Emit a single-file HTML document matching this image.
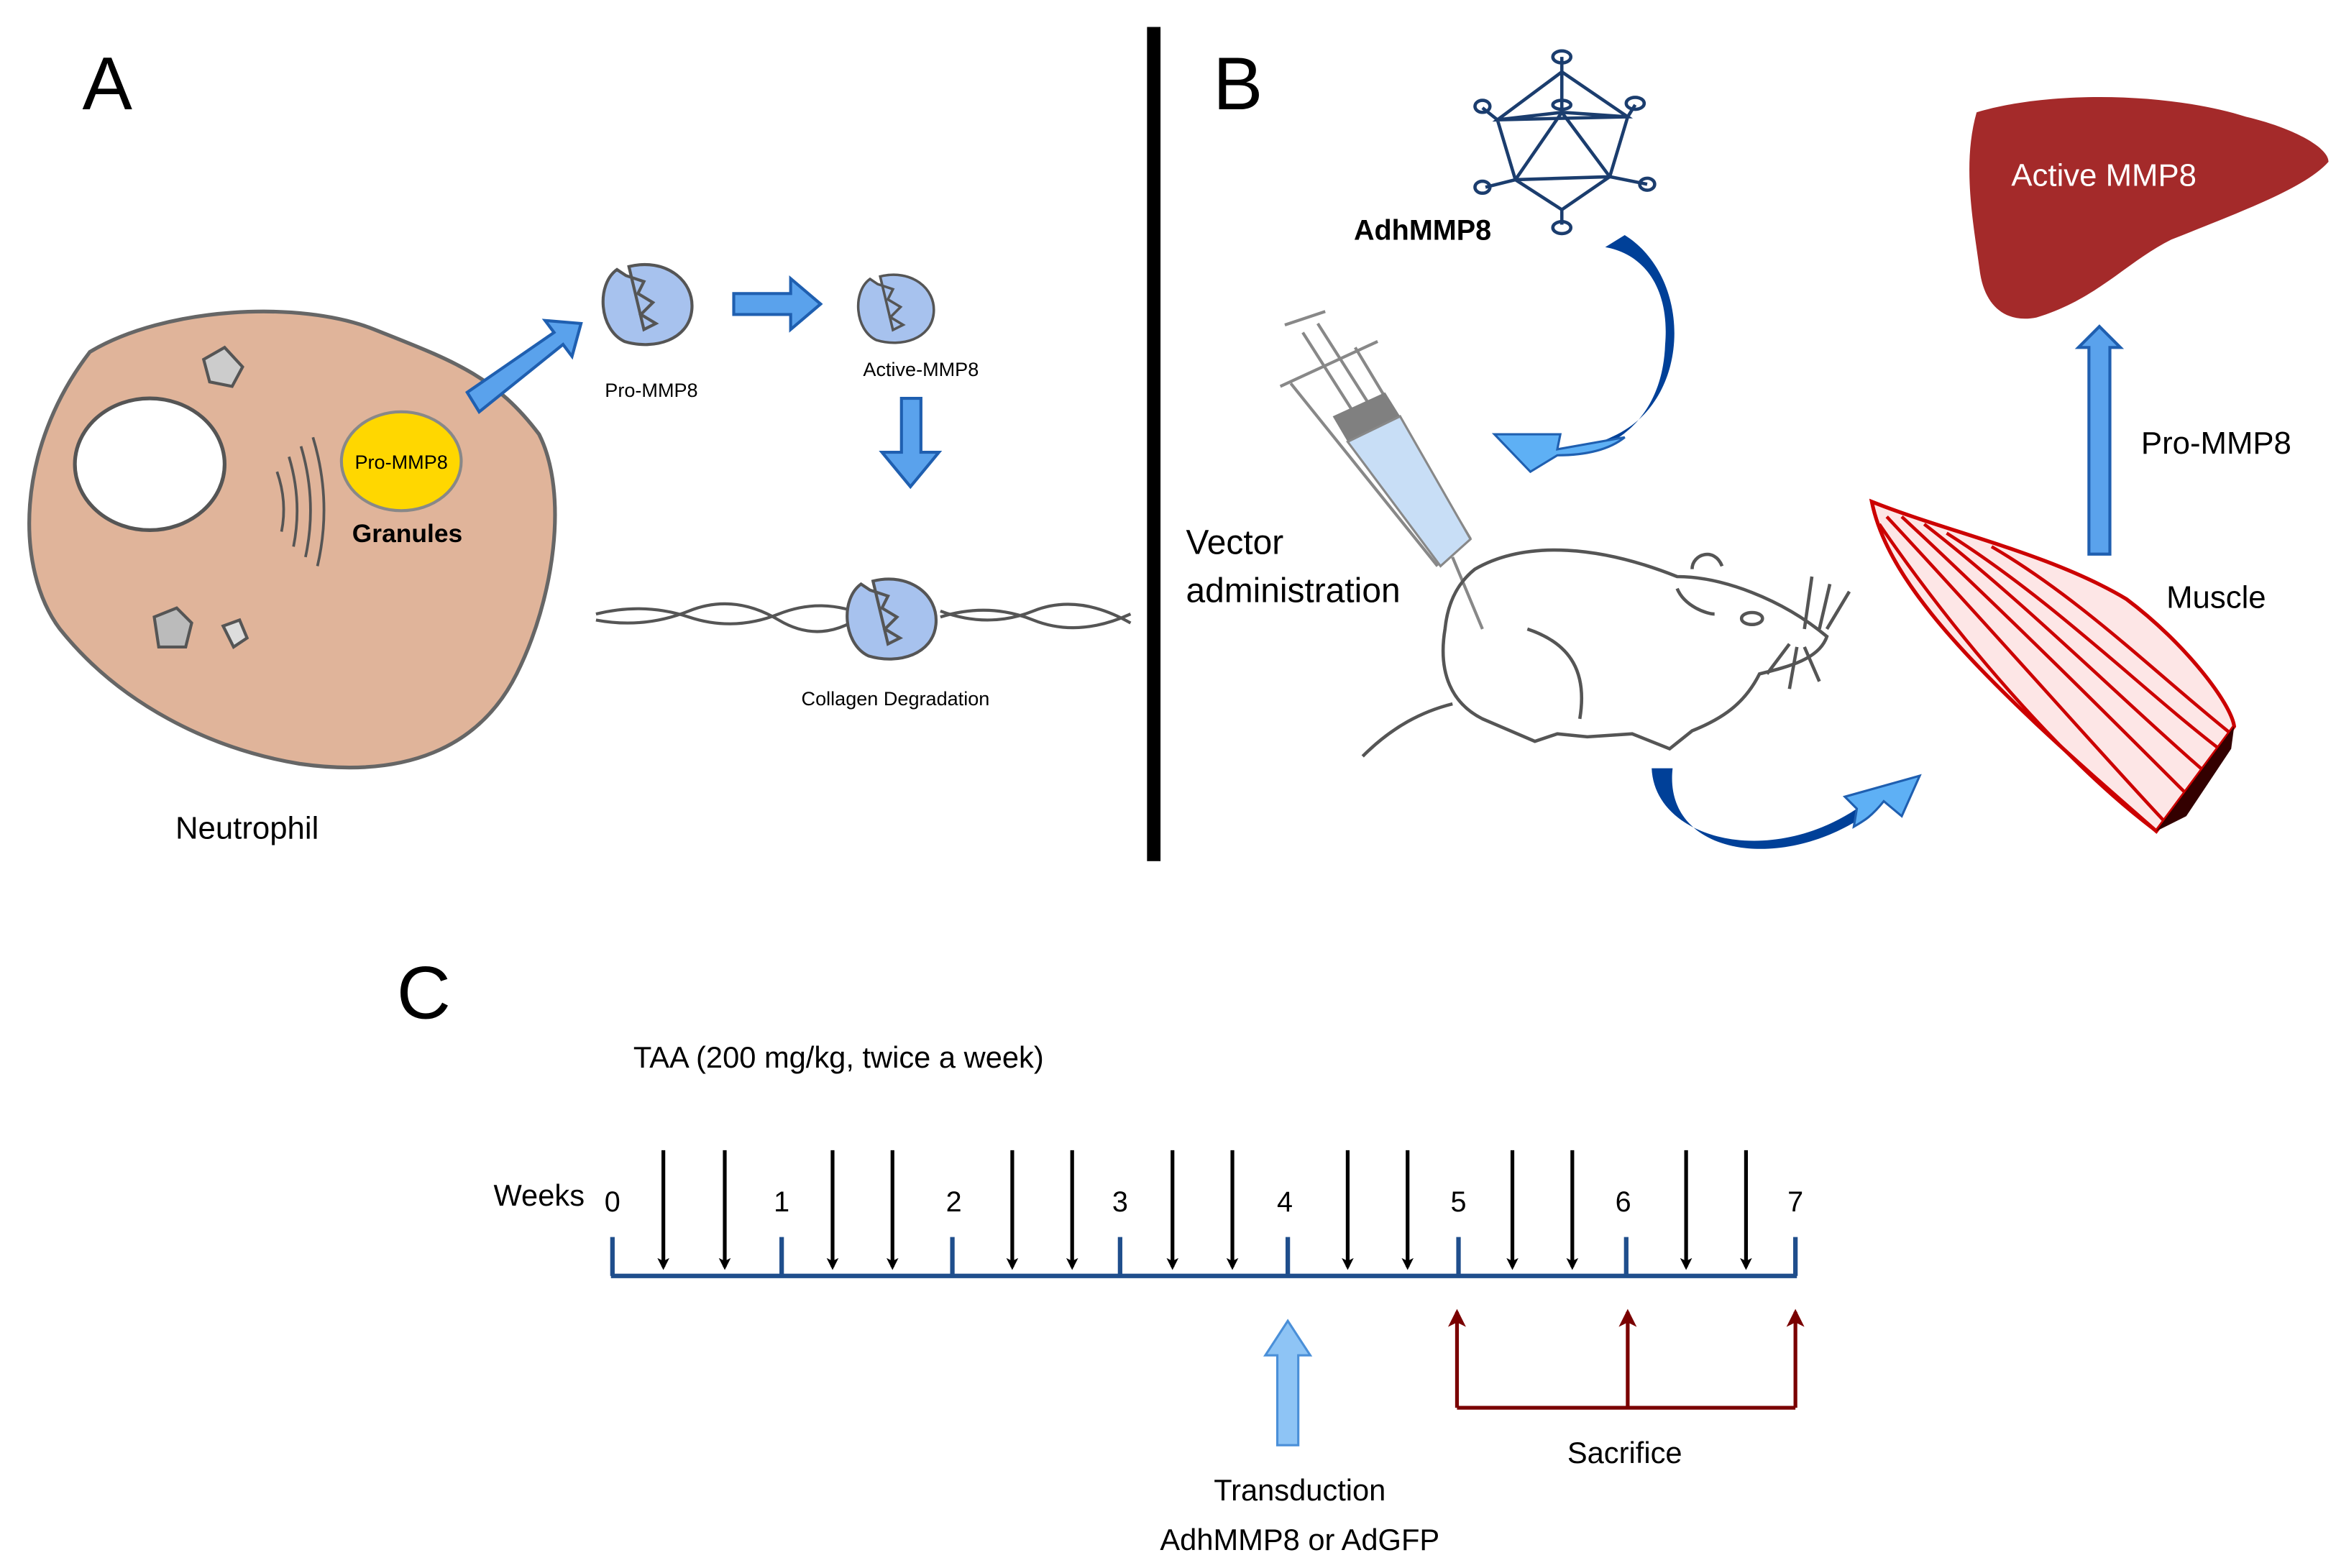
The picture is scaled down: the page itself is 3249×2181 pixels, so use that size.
<!DOCTYPE html>
<html><head><meta charset="utf-8"><style>html,body{margin:0;padding:0;background:#fff}svg{display:block}text{font-family:"Liberation Sans",sans-serif}</style></head><body>
<svg width="3249" height="2181" viewBox="0 0 1560 1047" xmlns="http://www.w3.org/2000/svg" preserveAspectRatio="none">
<defs>
<marker id="bk" markerWidth="8" markerHeight="8" refX="6" refY="4" orient="auto" markerUnits="userSpaceOnUse"><path d="M0,0 L8,4 L0,8 L2,4Z" fill="#000"/></marker>
<marker id="rd" markerWidth="12" markerHeight="14" refX="10" refY="6" orient="auto" markerUnits="userSpaceOnUse"><path d="M0,0 L12,6 L0,12 L3,6Z" fill="#7a0000"/></marker>
<g id="pac"><path d="M-12,-24 C12,-30 32,-15 30,5 C28,25 5,32 -15,26 C-32,18 -34,-12 -20,-22 L-14,-18 L-2,-14 L-6,-6 L4,0 L-4,8 L6,14 L-2,18 Z" fill="#a7c2ee" stroke="#555" stroke-width="2"/></g>
</defs>
<text x="55" y="73" font-size="50">A</text>
<text x="810" y="73" font-size="50">B</text>
<rect x="766" y="18" width="9" height="557" fill="#000"/>
<path d="M60,235 C110,205 200,200 250,220 C300,240 330,250 360,290 C380,330 370,400 345,450 C320,500 270,520 200,510 C140,500 80,470 40,420 C10,380 10,300 60,235Z" fill="#e0b49a" stroke="#666" stroke-width="2.5"/>
<ellipse cx="100" cy="310" rx="50" ry="44" fill="#fff" stroke="#555" stroke-width="2.5"/>
<ellipse cx="268" cy="308" rx="40" ry="33" fill="#ffd700" stroke="#888" stroke-width="2"/>
<text x="268" y="313" font-size="13" text-anchor="middle">Pro-MMP8</text>
<text x="272" y="362" font-size="17" font-weight="bold" text-anchor="middle">Granules</text>
<path d="M136,240 L150,232 L162,245 L155,258 L140,255Z" fill="#ccc" stroke="#555" stroke-width="2"/>
<path d="M103,412 L118,406 L128,416 L124,432 L106,432Z" fill="#bbb" stroke="#555" stroke-width="2"/>
<path d="M149,418 L160,414 L165,426 L156,432Z" fill="#ddd" stroke="#555" stroke-width="2"/>
<g fill="none" stroke="#555" stroke-width="1.8"><path d="M185,315 Q192,335 188,355"/><path d="M193,305 Q202,335 196,365"/><path d="M201,298 Q212,335 204,372"/><path d="M209,292 Q222,335 212,378"/></g>
<text x="165" y="560" font-size="21" text-anchor="middle">Neutrophil</text>
<path d="M312,262 L370,222 L364,214 L388,216 L382,238 L376,230 L320,275Z" fill="#5aa2ec" stroke="#1f5fb0" stroke-width="2"/>
<use href="#pac" x="432" y="202"/>
<text x="435" y="265" font-size="13" text-anchor="middle">Pro-MMP8</text>
<path d="M490,196 L528,196 L528,186 L548,203 L528,220 L528,210 L490,210Z" fill="#5aa2ec" stroke="#1f5fb0" stroke-width="2"/>
<g transform="translate(598,205) scale(0.85)"><use href="#pac"/></g>
<text x="615" y="251" font-size="13" text-anchor="middle">Active-MMP8</text>
<path d="M602,266 L615,266 L615,302 L627,302 L608,325 L589,302 L602,302Z" fill="#5aa2ec" stroke="#1f5fb0" stroke-width="2"/>
<g fill="none" stroke="#555" stroke-width="2"><path d="M398,410 Q430,402 460,412 T520,410 T580,412"/><path d="M398,414 Q430,420 460,408 T520,414 T580,408"/><path d="M628,412 Q660,402 690,414 T755,410"/><path d="M628,408 Q660,420 690,408 T755,416"/></g>
<use href="#pac" x="595" y="412"/>
<text x="598" y="471" font-size="13" text-anchor="middle">Collagen Degradation</text>
<g stroke="#1b3d6e" stroke-width="2.2" fill="none">
<path d="M1043,48 L1000,80 L1087,78 Z M1000,80 L1012,120 L1043,140 L1075,118 L1087,78 M1043,75 L1012,120 L1075,118 Z M1000,80 L1043,75 L1087,78 M1043,48 L1043,75"/>
<path d="M1043,48 L1043,38 M1000,80 L990,72 M1087,78 L1092,70 M1012,120 L992,125 M1075,118 L1100,123 M1043,140 L1043,150"/>
<ellipse cx="1043" cy="38" rx="6" ry="4"/><ellipse cx="990" cy="71" rx="5" ry="4"/><ellipse cx="1092" cy="69" rx="6" ry="4"/><ellipse cx="990" cy="125" rx="5" ry="4"/><ellipse cx="1100" cy="123" rx="5" ry="4"/><ellipse cx="1043" cy="152" rx="6" ry="4"/><ellipse cx="1043" cy="70" rx="6" ry="3"/>
</g>
<text x="950" y="160" font-size="19" font-weight="bold" text-anchor="middle">AdhMMP8</text>
<path d="M1085,157 C1130,185 1130,265 1080,290 C1060,300 1050,300 1040,300 L1042,290 L998,290 L1022,315 L1040,304 C1070,305 1110,285 1112,230 C1115,195 1100,170 1072,165Z" fill="#004098"/>
<path d="M1040,300 L1042,290 L998,290 L1022,315 L1040,304 C1060,304 1075,300 1085,292Z" fill="#5eb0f5" stroke="#1f5fb0" stroke-width="1.5"/>
<g stroke="#888" stroke-width="2" fill="none">
<path d="M858,217 L885,208 M870,222 L945,340 M880,216 L955,334 M855,258 L920,228 M862,256 L960,378 M905,232 L982,360 M970,372 L990,420"/>
</g>
<path d="M890,278 L925,262 L935,278 L900,295Z" fill="#808080"/>
<path d="M900,295 L935,278 L982,360 L962,378Z" fill="#c8def6" stroke="#888" stroke-width="1.5"/>
<text x="792" y="370" font-size="23">Vector</text>
<text x="792" y="402" font-size="23">administration</text>
<g fill="none" stroke="#555" stroke-width="2.2">
<path d="M985,380 C1020,360 1070,365 1120,385 C1150,385 1190,400 1220,425 C1215,440 1195,445 1175,450 C1165,470 1150,480 1130,488 L1115,500 L1090,490 L1060,492 L1040,490 L1025,495 L990,480 C970,470 960,450 965,420 C967,400 975,388 985,380Z"/>
<path d="M970,470 C950,475 930,485 910,505"/>
<path d="M1130,380 C1130,370 1145,365 1150,378 M1120,393 C1125,405 1140,410 1145,410"/>
<ellipse cx="1170" cy="413" rx="7" ry="4"/>
<path d="M1210,385 L1205,420 M1222,390 L1215,420 M1235,395 L1220,420 M1195,430 L1180,450 M1200,432 L1195,460 M1205,432 L1215,455"/>
<path d="M1020,420 C1050,430 1060,450 1055,480"/>
</g>
<path d="M1103,513 C1105,560 1180,580 1240,540 L1232,532 L1282,518 L1270,545 L1258,535 C1200,585 1110,575 1117,513Z" fill="#004098"/>
<path d="M1240,540 L1232,532 L1282,518 L1270,545 L1258,535 C1250,545 1245,548 1238,552Z" fill="#5eb0f5" stroke="#1f5fb0" stroke-width="1.5"/>
<path d="M1250,335 C1300,355 1370,370 1420,400 C1460,430 1490,470 1492,485 L1440,555 C1400,520 1330,460 1290,410 C1270,385 1255,360 1250,335Z" fill="#fde6e6" stroke="#c00" stroke-width="2.5"/>
<g fill="none" stroke="#c00" stroke-width="2.2"><path d="M1260,345 C1330,420 1400,500 1445,548"/><path d="M1270,345 C1340,410 1410,480 1460,530"/><path d="M1285,350 C1350,400 1420,470 1472,515"/><path d="M1300,356 C1370,400 1430,460 1482,500"/><path d="M1330,365 C1390,400 1440,450 1490,490"/><path d="M1255,350 C1310,430 1380,510 1440,555"/></g>
<path d="M1492,485 L1440,555 L1460,545 L1490,500Z" fill="#300"/>
<text x="1480" y="406" font-size="21" text-anchor="middle">Muscle</text>
<path d="M1395,370 L1395,232 L1388,232 L1402,218 L1416,232 L1409,232 L1409,370Z" fill="#5aa2ec" stroke="#1f5fb0" stroke-width="2"/>
<text x="1480" y="303" font-size="21" text-anchor="middle">Pro-MMP8</text>
<path d="M1320,75 C1370,60 1450,62 1500,78 C1530,85 1555,98 1555,108 C1540,125 1500,140 1450,160 C1420,175 1400,200 1360,212 C1340,216 1325,205 1322,180 C1318,150 1310,110 1320,75Z" fill="#a42a2a"/>
<text x="1405" y="124" font-size="21" fill="#fff" text-anchor="middle">Active MMP8</text>
<text x="283" y="680" font-size="50" text-anchor="middle">C</text>
<text x="560" y="713" font-size="20" text-anchor="middle">TAA (200 mg/kg, twice a week)</text>
<text x="360" y="805" font-size="20" text-anchor="middle">Weeks</text>
<g font-size="19" text-anchor="middle"><text x="409" y="809">0</text><text x="522" y="809">1</text><text x="637" y="809">2</text><text x="748" y="809">3</text><text x="858" y="809">4</text><text x="974" y="809">5</text><text x="1084" y="809">6</text><text x="1199" y="809">7</text></g>
<g stroke="#1f4e8c" stroke-width="3"><path d="M408,852 L1200,852"/><path d="M409,826V852M522,826V852M636,826V852M748,826V852M860,826V852M974,826V852M1086,826V852M1199,826V852"/></g>
<g stroke="#000" stroke-width="2.5" marker-end="url(#bk)"><path d="M443,768V846"/><path d="M484,768V846"/><path d="M556,768V846"/><path d="M596,768V846"/><path d="M676,768V846"/><path d="M716,768V846"/><path d="M783,768V846"/><path d="M823,768V846"/><path d="M900,768V846"/><path d="M940,768V846"/><path d="M1010,768V846"/><path d="M1050,768V846"/><path d="M1126,768V846"/><path d="M1166,768V846"/></g>
<path d="M853,965 L853,905 L845,905 L860,882 L875,905 L867,905 L867,965Z" fill="#8ec4f5" stroke="#4a8fd8" stroke-width="1.5"/>
<g stroke="#7a0000" stroke-width="2.5" fill="none"><path d="M973,940 L1199,940"/><path d="M973,940V876" marker-end="url(#rd)"/><path d="M1087,940V876" marker-end="url(#rd)"/><path d="M1199,940V876" marker-end="url(#rd)"/></g>
<text x="1085" y="977" font-size="20" text-anchor="middle">Sacrifice</text>
<text x="868" y="1002" font-size="20" text-anchor="middle">Transduction</text>
<text x="868" y="1035" font-size="20" text-anchor="middle">AdhMMP8 or AdGFP</text>
</svg>
</body></html>
